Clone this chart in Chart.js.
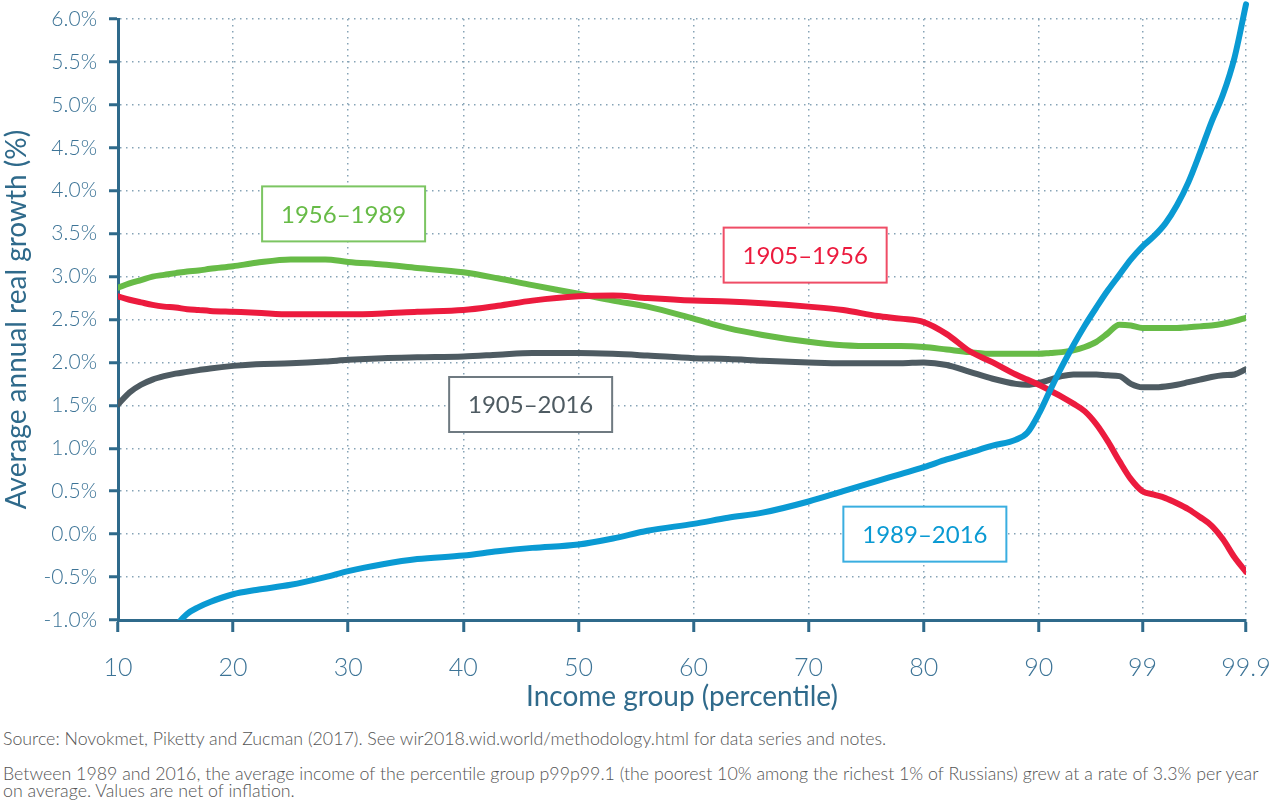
<!DOCTYPE html>
<html>
<head>
<meta charset="utf-8">
<script src="https://cdn.jsdelivr.net/npm/chart.js@4.4.1/dist/chart.umd.min.js"></script>
<style>
  body { margin: 0; background: #fff; font-family: Lato, "Open Sans", sans-serif; }
  #wrap { position: relative; width: 1272px; height: 801px; }
  #chart { position: absolute; left: 0; top: 0; }
  .note { position: absolute; left: 3px; font-size: 17.8px; color: #555; font-weight: 300; line-height: 17px; white-space: nowrap; }
</style>
</head>
<body>
<div id="wrap">
  <canvas id="chart" width="1272" height="725"></canvas>
  <div class="note" style="top:730px">Source: Novokmet, Piketty and Zucman (2017). See wir2018.wid.world/methodology.html for data series and notes.</div>
  <div class="note" style="top:765px">Between 1989 and 2016, the average income of the percentile group p99p99.1 (the poorest 10% among the richest 1% of Russians) grew at a rate of 3.3% per year<br>on average. Values are net of inflation.</div>
</div>
<script>
// income groups (percentile)
const percentiles = [10, 11, 12, 13, 14, 15, 16, 17, 18, 20, 22, 25, 28, 30, 33, 36, 40, 43, 46, 50,
  53, 56, 60, 63, 66, 70, 73, 76, 78, 80, 82, 84, 86, 88, 89, 90,
  91, 92, 93, 94, 95, 96, 97, 98, 99,
  99.1, 99.2, 99.3, 99.4, 99.5, 99.6, 99.7, 99.8, 99.9];

const growth1905_1956 = [2.77, 2.73, 2.70, 2.67, 2.65, 2.64, 2.62, 2.61, 2.60, 2.59, 2.58, 2.56, 2.56, 2.56, 2.57, 2.59, 2.61, 2.66, 2.72, 2.77,
  2.78, 2.75, 2.72, 2.71, 2.69, 2.65, 2.61, 2.54, 2.51, 2.47, 2.33, 2.13, 2.00, 1.86, 1.80, 1.74,
  1.67, 1.60, 1.52, 1.43, 1.28, 1.08, 0.85, 0.64, 0.50,
  0.46, 0.42, 0.36, 0.29, 0.20, 0.10, -0.06, -0.27, -0.44];

const growth1956_1989 = [2.87, 2.92, 2.96, 3.00, 3.02, 3.04, 3.06, 3.07, 3.09, 3.12, 3.16, 3.20, 3.20, 3.17, 3.14, 3.10, 3.05, 2.98, 2.90, 2.80,
  2.72, 2.65, 2.51, 2.40, 2.32, 2.24, 2.20, 2.19, 2.19, 2.18, 2.15, 2.12, 2.10, 2.10, 2.10, 2.10,
  2.11, 2.12, 2.14, 2.18, 2.24, 2.34, 2.44, 2.43, 2.40,
  2.40, 2.40, 2.40, 2.41, 2.42, 2.43, 2.45, 2.48, 2.52];

const growth1905_2016 = [1.51, 1.65, 1.74, 1.80, 1.84, 1.87, 1.89, 1.91, 1.93, 1.96, 1.98, 1.99, 2.01, 2.03, 2.05, 2.06, 2.07, 2.09, 2.11, 2.11,
  2.10, 2.08, 2.05, 2.04, 2.02, 2.00, 1.99, 1.99, 1.99, 2.00, 1.97, 1.89, 1.81, 1.75, 1.74, 1.76,
  1.80, 1.84, 1.86, 1.86, 1.86, 1.85, 1.84, 1.75, 1.71,
  1.71, 1.72, 1.74, 1.77, 1.80, 1.83, 1.85, 1.86, 1.92];

const growth1989_2016 = [null, null, null, null, -1.30, -1.08, -0.93, -0.85, -0.79, -0.70, -0.65, -0.59, -0.50, -0.43, -0.35, -0.29, -0.25, -0.20, -0.16, -0.12,
  -0.05, 0.04, 0.12, 0.19, 0.25, 0.38, 0.50, 0.62, 0.70, 0.78, 0.87, 0.95, 1.03, 1.10, 1.18, 1.40,
  1.68, 1.95, 2.20, 2.43, 2.64, 2.84, 3.02, 3.20, 3.35,
  3.47, 3.62, 3.83, 4.10, 4.44, 4.80, 5.12, 5.55, 6.17];

const xTickValues = [10, 20, 30, 40, 50, 60, 70, 80, 90, 99, 99.9];
const xTickLabels = ["10", "20", "30", "40", "50", "60", "70", "80", "90", "99", "99.9"];

// the top 1% is stretched: each 0.1 step gets the width of one percentile
function xPos(p) {
  return p <= 99 ? p : 99 + (p - 99) * 10;
}

function points(values) {
  return percentiles.map((p, i) => ({ x: xPos(p), y: values[i] }));
}

const AXIS = "#2f6a8b";
const TICK = "#3d7497";
const GRID = "#86a3b6";

const seriesLabels = [
  { text: "1956–1989", p: 29.6, v: 3.73, color: "#67bb47", border: "#7cc562" },
  { text: "1905–1956", p: 69.7, v: 3.25, color: "#ec1b3e", border: "#ef4d66" },
  { text: "1905–2016", p: 45.85, v: 1.51, color: "#4e5b62", border: "#6f7a81" },
  { text: "1989–2016", p: 80.1, v: 0.0, color: "#0a9ad3", border: "#3aaee0" },
];

const boxLabels = {
  id: "boxLabels",
  afterDatasetsDraw(chart) {
    const { ctx, scales } = chart;
    ctx.save();
    ctx.font = "400 24px Lato";
    ctx.textAlign = "center";
    ctx.textBaseline = "middle";
    seriesLabels.forEach(l => {
      const cx = scales.x.getPixelForValue(xPos(l.p));
      const cy = scales.y.getPixelForValue(l.v);
      const w = 163, h = 55;
      ctx.fillStyle = "#fff";
      ctx.fillRect(cx - w / 2, cy - h / 2, w, h);
      ctx.lineWidth = 2;
      ctx.strokeStyle = l.border;
      ctx.strokeRect(cx - w / 2, cy - h / 2, w, h);
      ctx.fillStyle = l.color;
      ctx.fillText(l.text, cx, cy + 1);
    });
    ctx.restore();
  }
};

function line(label, values, color, order, clip) {
  const ds = {
    label: label,
    data: points(values),
    borderColor: color,
    borderWidth: 6,
    borderCapStyle: "round",
    borderJoinStyle: "round",
    pointRadius: 0,
    fill: false,
    cubicInterpolationMode: "monotone",
    spanGaps: false,
    order: order,
  };
  if (clip) ds.clip = clip;
  return ds;
}

const gridOpts = {
  color: GRID,
  lineWidth: 1.5,
  drawTicks: true,
  tickWidth: 3,
  tickColor: AXIS,
  tickBorderDash: [],
};

new Chart(document.getElementById("chart"), {
  type: "line",
  data: {
    datasets: [
      line("1989–2016", growth1989_2016, "#0a9ad3", 1, { left: 3, top: 20, right: 3, bottom: 0 }),
      line("1905–1956", growth1905_1956, "#ec1b3e", 2),
      line("1956–1989", growth1956_1989, "#67bb47", 3),
      line("1905–2016", growth1905_2016, "#4e5b62", 4),
    ],
  },
  options: {
    responsive: false,
    animation: false,
    layout: { padding: { top: 19, right: 26, left: 0, bottom: 0 } },
    plugins: { legend: { display: false }, tooltip: { enabled: false } },
    scales: {
      x: {
        type: "linear",
        min: xPos(10),
        max: xPos(99.9),
        afterBuildTicks: s => { s.ticks = xTickValues.map(v => ({ value: xPos(v) })); },
        afterFit: s => { s.height = 105; s.paddingLeft = 0; s.paddingRight = 0; },
        ticks: {
          autoSkip: false,
          maxRotation: 0,
          padding: 21,
          color: TICK,
          font: { family: "Lato", size: 25, weight: 300 },
          callback: (v, i) => xTickLabels[i],
        },
        grid: Object.assign({ tickLength: 12 }, gridOpts),
        border: { display: true, color: AXIS, width: 3, dash: [1.5, 4.5] },
        title: {
          display: true,
          text: "Income group (percentile)",
          color: AXIS,
          font: { family: "Lato", size: 28, weight: 400 },
          padding: { top: 0, bottom: 11 },
        },
      },
      y: {
        min: -1,
        max: 6,
        afterFit: s => { s.width = 118; s.paddingTop = 0; s.paddingBottom = 0; },
        ticks: {
          stepSize: 0.5,
          padding: 12,
          color: TICK,
          font: { family: "Lato", size: 21, weight: 300 },
          callback: v => v.toFixed(1) + "%",
        },
        grid: Object.assign({ tickLength: 9 }, gridOpts),
        border: { display: true, color: AXIS, width: 3, dash: [1.5, 4.5] },
        title: {
          display: true,
          text: "Average annual real growth (%)",
          color: AXIS,
          font: { family: "Lato", size: 28, weight: 400 },
          padding: { top: 0, bottom: 0 },
        },
      },
    },
  },
  plugins: [boxLabels],
});
</script>
</body>
</html>
